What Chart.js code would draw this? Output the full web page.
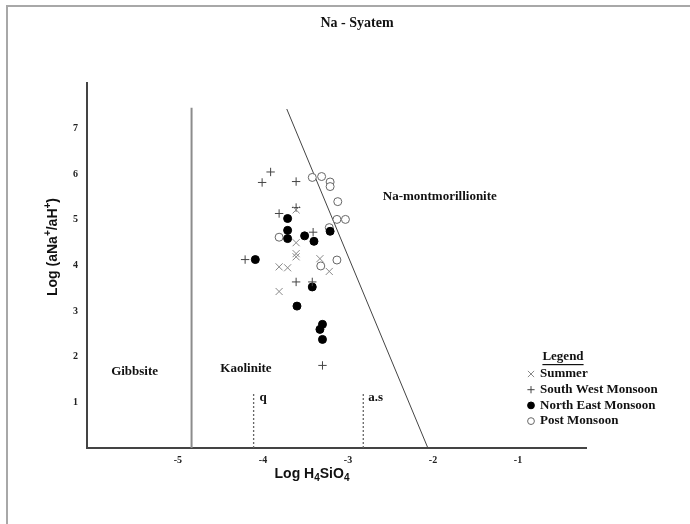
<!DOCTYPE html>
<html>
<head>
<meta charset="utf-8">
<script src="https://cdn.jsdelivr.net/npm/chart.js@4.4.1/dist/chart.umd.min.js"></script>
<style>
  body { margin: 0; background: #fff; }
  #frame { position: absolute; left: 6px; top: 5px; width: 690px; height: 530px;
           border-left: 2px solid #a8a8a8; border-top: 2px solid #a8a8a8; }
  #myChart { position: absolute; left: 0; top: 0; }
</style>
</head>
<body>
<div id="frame"></div>
<canvas id="myChart" width="690" height="524"></canvas>
<script>
// sample points (x = log H4SiO4, y = log aNa+/aH+)
const summerX = [-3.61, -3.61, -3.61, -3.61, -3.81, -3.71, -3.33, -3.22, -3.81];
const summerY = [5.22, 4.50, 4.26, 4.19, 3.97, 3.95, 4.15, 3.87, 3.43];

const swX = [-3.91, -4.01, -3.61, -3.81, -3.61, -3.41, -4.21, -3.61, -3.42, -3.30];
const swY = [6.05, 5.82, 5.84, 5.14, 5.27, 4.73, 4.13, 3.64, 3.64, 1.81];

const neX = [-3.71, -3.71, -3.71, -3.51, -3.40, -3.21, -4.09, -3.42, -3.60, -3.30, -3.33, -3.30];
const neY = [5.03, 4.77, 4.59, 4.65, 4.53, 4.75, 4.13, 3.53, 3.11, 2.71, 2.60, 2.38];

const postX = [-3.42, -3.31, -3.21, -3.21, -3.12, -3.13, -3.03, -3.22, -3.81, -3.13, -3.32];
const postY = [5.93, 5.95, 5.83, 5.73, 5.40, 5.01, 5.01, 4.83, 4.62, 4.12, 3.99];

// stability field boundaries
const gibbsiteX = [-4.84, -4.84];
const gibbsiteY = [0, 7.46];
const montX = [-3.72, -2.06];
const montY = [7.43, 0];
const quartzX = [-4.11, -4.11];
const quartzY = [0, 1.22];
const amorphX = [-2.82, -2.82];
const amorphY = [0, 1.22];

const xTicks = [-5, -4, -3, -2, -1];
const yTicks = [1, 2, 3, 4, 5, 6, 7];

const toPts = (xs, ys) => xs.map((x, i) => ({x: x, y: ys[i]}));

const serif = "'Liberation Serif', 'Times New Roman', serif";
const sans = "'Liberation Sans', Arial, sans-serif";

const series = [
  {label: 'Summer', pts: toPts(summerX, summerY), style: 'crossRot', r: 5, fill: '#888', line: '#888'},
  {label: 'South West Monsoon', pts: toPts(swX, swY), style: 'cross', r: 4.2, fill: '#444', line: '#444'},
  {label: 'North East Monsoon', pts: toPts(neX, neY), style: 'circle', r: 4, fill: '#000', line: '#000'},
  {label: 'Post Monsoon', pts: toPts(postX, postY), style: 'circle', r: 4, fill: '#fff', line: '#666'}
];

const boundary = (xs, ys, color, width, dash) => ({
  data: toPts(xs, ys), showLine: true, pointRadius: 0, borderColor: color,
  borderWidth: width, borderDash: dash, fill: false
});

// draw text made of pieces, some raised or lowered
function richText(ctx, parts, cx, cy) {
  let total = 0;
  parts.forEach(p => { ctx.font = p.font; total += ctx.measureText(p.t).width; });
  let x = cx - total / 2;
  ctx.textAlign = 'left';
  ctx.textBaseline = 'middle';
  parts.forEach(p => {
    ctx.font = p.font;
    ctx.fillText(p.t, x, cy + (p.dy || 0));
    x += ctx.measureText(p.t).width;
  });
}

const extras = {
  id: 'extras',
  afterDraw(chart) {
    const ctx = chart.ctx;
    const xs = chart.scales.x, ys = chart.scales.y;
    const px = v => xs.getPixelForValue(v), py = v => ys.getPixelForValue(v);
    ctx.save();
    ctx.fillStyle = '#111';
    ctx.textAlign = 'center';
    ctx.textBaseline = 'middle';

    ctx.font = 'bold 14px ' + serif;
    ctx.fillText('Na - Syatem', 357, 23);

    ctx.font = 'bold 13px ' + serif;
    ctx.fillText('Gibbsite', px(-5.51), py(1.67));
    ctx.fillText('Kaolinite', px(-4.2), py(1.73));
    ctx.fillText('Na-montmorillionite', px(-1.92), py(5.51));
    ctx.textAlign = 'left';
    ctx.fillText('q', px(-4.11) + 6, py(1.1));
    ctx.fillText('a.s', px(-2.82) + 5, py(1.1));

    // axis titles
    const b14 = 'bold 14px ' + sans, b10 = 'bold 10px ' + sans;
    richText(ctx, [{t: 'Log H', font: b14}, {t: '4', font: b10, dy: 4},
                   {t: 'SiO', font: b14}, {t: '4', font: b10, dy: 4}], 312, 474);
    ctx.save();
    ctx.translate(53, 247);
    ctx.rotate(-Math.PI / 2);
    richText(ctx, [{t: 'Log (aNa', font: b14}, {t: '+', font: b10, dy: -5},
                   {t: '/aH', font: b14}, {t: '+', font: b10, dy: -5},
                   {t: ')', font: b14}], 0, 0);
    ctx.restore();

    // legend
    ctx.font = 'bold 13px ' + serif;
    ctx.textAlign = 'center';
    ctx.fillText('Legend', 563, 357);
    const lw = ctx.measureText('Legend').width;
    ctx.fillRect(563 - lw / 2, 364, lw, 1.2);
    ctx.textAlign = 'left';
    series.forEach((s, i) => {
      const y = 374 + i * 15.7;
      ctx.fillStyle = s.fill;
      ctx.strokeStyle = s.line;
      ctx.lineWidth = 1;
      Chart.helpers.drawPoint(ctx, {pointStyle: s.style, radius: s.r - 0.6, rotation: 0, borderWidth: 1}, 531, y);
      ctx.fillStyle = '#111';
      ctx.fillText(s.label, 540, y);
    });
    ctx.restore();
  }
};

const datasets = series.map(s => ({
  label: s.label, data: s.pts, pointStyle: s.style, pointRadius: s.r,
  pointBackgroundColor: s.fill, pointBorderColor: s.line, pointBorderWidth: 1,
  showLine: false
}));
datasets.push(boundary(gibbsiteX, gibbsiteY, '#8c8c8c', 2, []));
datasets.push(boundary(montX, montY, '#444', 1, []));
datasets.push(boundary(quartzX, quartzY, '#666', 1.3, [2, 2]));
datasets.push(boundary(amorphX, amorphY, '#666', 1.3, [2, 2]));

const tickFont = {family: serif, size: 10, weight: 'bold'};

const config = {
  type: 'scatter',
  data: {datasets: datasets},
  options: {
    responsive: false,
    animation: false,
    layout: {padding: {left: 0, top: 83, right: 104, bottom: 0}},
    plugins: {legend: {display: false}, title: {display: false}, tooltip: {enabled: false}},
    scales: {
      x: {
        type: 'linear', min: -6.07, max: -0.2,
        afterBuildTicks: s => { s.ticks = xTicks.map(v => ({value: v})); },
        afterFit: s => { s.height = 76; },
        grid: {display: false, drawTicks: false},
        border: {display: true, color: '#444', width: 2},
        ticks: {font: tickFont, color: '#222', padding: 6}
      },
      y: {
        type: 'linear', min: 0, max: 8,
        afterBuildTicks: s => { s.ticks = yTicks.map(v => ({value: v})); },
        afterFit: s => { s.width = 87; },
        grid: {display: false, drawTicks: false},
        border: {display: true, color: '#444', width: 2},
        ticks: {font: tickFont, color: '#222', padding: 9}
      }
    }
  },
  plugins: [extras]
};

let ctx = document.getElementById('myChart').getContext('2d');
let chart = new Chart(ctx, config);
</script>
</body>
</html>
